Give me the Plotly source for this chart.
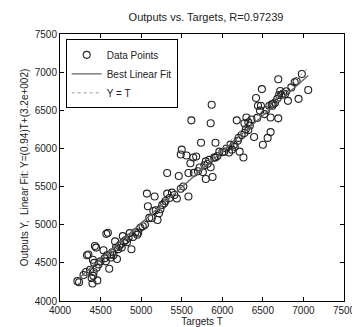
import plotly.graph_objects as go
import numpy as np

targets = [4214,4235,4290,4320,4333,4350,4370,4390,4400,4410,4415,4405,4420,4430,4445,4452,4460,4475,4500,4536,
           4550,4565,4580,4571,4590,4607,4620,4630,4645,4660,4679,4690,4702,4715,4730,4745,4760,4774,4790,4810,
           4825,4845,4860,4880,4900,4930,4952,4964,4990,5020,
           5047,5071,5083,5100,5131,5150,5166,5180,5202,5220,5238,5260,5285,5300,5321,5321,5350,5380,5410,5440,
           5464,5488,5488,5500,5520,5559,5583,5583,5607,5619,5642,5650,5678,5700,5720,5738,5761,5780,5797,5797,
           5820,5840,5857,5857,5869,5880,5900,5916,5916,5940,5964,6000,6023,6050,6083,6100,6118,6142,6154,6178,
           6190,6202,6214,6238,6261,6273,6273,6290,6297,6321,6321,6340,6360,6392,6416,6430,6440,6464,6476,6488,
           6500,6520,6540,6559,6580,6595,6595,6610,6618,6630,6650,6678,6690,6690,6700,6714,6730,6750,6773,6790,
           6809,6850,6892,6916,6940,6980,7059]
outputs = [4260,4245,4340,4380,4600,4610,4410,4300,4230,4330,4380,4540,4500,4720,4700,4435,4270,4480,4520,4665,
           4560,4520,4600,4880,4895,4422,4610,4570,4640,4600,4781,4700,4551,4680,4720,4740,4700,4850,4780,4800,
           4770,4830,4890,4679,4840,4900,4870,4896,4960,4980,
           4998,5408,5242,5090,5088,5180,5370,5190,5062,5150,5203,5260,5280,5310,5408,5677,5350,5420,5390,5344,
           5638,5472,5920,5984,5500,5907,5370,5677,5805,6368,5882,5680,5894,5700,5750,6074,5690,5780,5600,5830,
           5800,5850,5754,6330,6573,5626,5880,6074,5882,5900,5958,5950,5958,6000,5946,6050,5984,6048,6022,6368,
           6100,6138,5958,6176,5882,6202,6330,6250,6406,6240,6342,6300,6380,6150,6662,6400,6560,6496,6560,6778,
           6048,6450,6500,6138,6560,6214,6406,6580,6560,6586,6600,6650,6394,6906,6700,6752,6700,6720,6714,6750,
           6624,6800,6867,6880,6650,6975,6765]

fit_slope = 0.94
fit_intercept = 320.0
r_value = 0.97239

t_line = np.array([min(targets), max(targets)])

fig = go.Figure()
fig.add_trace(go.Scatter(x=targets, y=outputs, mode="markers", name="Data Points",
                         marker=dict(symbol="circle-open", size=7, color="#222222", line=dict(width=1.1))))
fig.add_trace(go.Scatter(x=t_line, y=fit_slope * t_line + fit_intercept, mode="lines", name="Best Linear Fit",
                         line=dict(color="#666666", width=1.3)))
fig.add_trace(go.Scatter(x=t_line, y=t_line, mode="lines", name="Y = T",
                         line=dict(color="#999999", width=1, dash="dot")))

axis_common = dict(showline=True, linecolor="black", linewidth=1, mirror="ticks", ticks="inside",
                   ticklen=4, tickcolor="black", showgrid=False, zeroline=False,
                   tickfont=dict(family="Liberation Sans, Arial", size=10, color="#222222"))
fig.update_layout(
    width=360, height=327,
    margin=dict(l=52, r=13, t=26, b=27),
    paper_bgcolor="white", plot_bgcolor="white",
    title=dict(text=f"Outputs vs. Targets, R={r_value}", x=0.55, xanchor="center", y=0.985, yanchor="top",
               font=dict(family="Liberation Sans, Arial", size=11, color="#222222")),
    xaxis=dict(range=[4000, 7500], dtick=500, title=dict(text="Targets T", standoff=0,
               font=dict(family="Liberation Sans, Arial", size=10, color="#222222")), **axis_common),
    yaxis=dict(range=[4000, 7500], dtick=500, title=dict(text="Outputs Y,  Linear Fit: Y=(0.94)T+(3.2e+002)", standoff=4,
               font=dict(family="Liberation Sans, Arial", size=10, color="#222222")), **axis_common),
    legend=dict(x=0.02, y=0.98, xanchor="left", yanchor="top", bordercolor="black", borderwidth=1,
                bgcolor="white", font=dict(family="Liberation Sans, Arial", size=10, color="#222222"),
                tracegroupgap=0, itemwidth=30),
    showlegend=True,
)
fig.write_html("out.html")
